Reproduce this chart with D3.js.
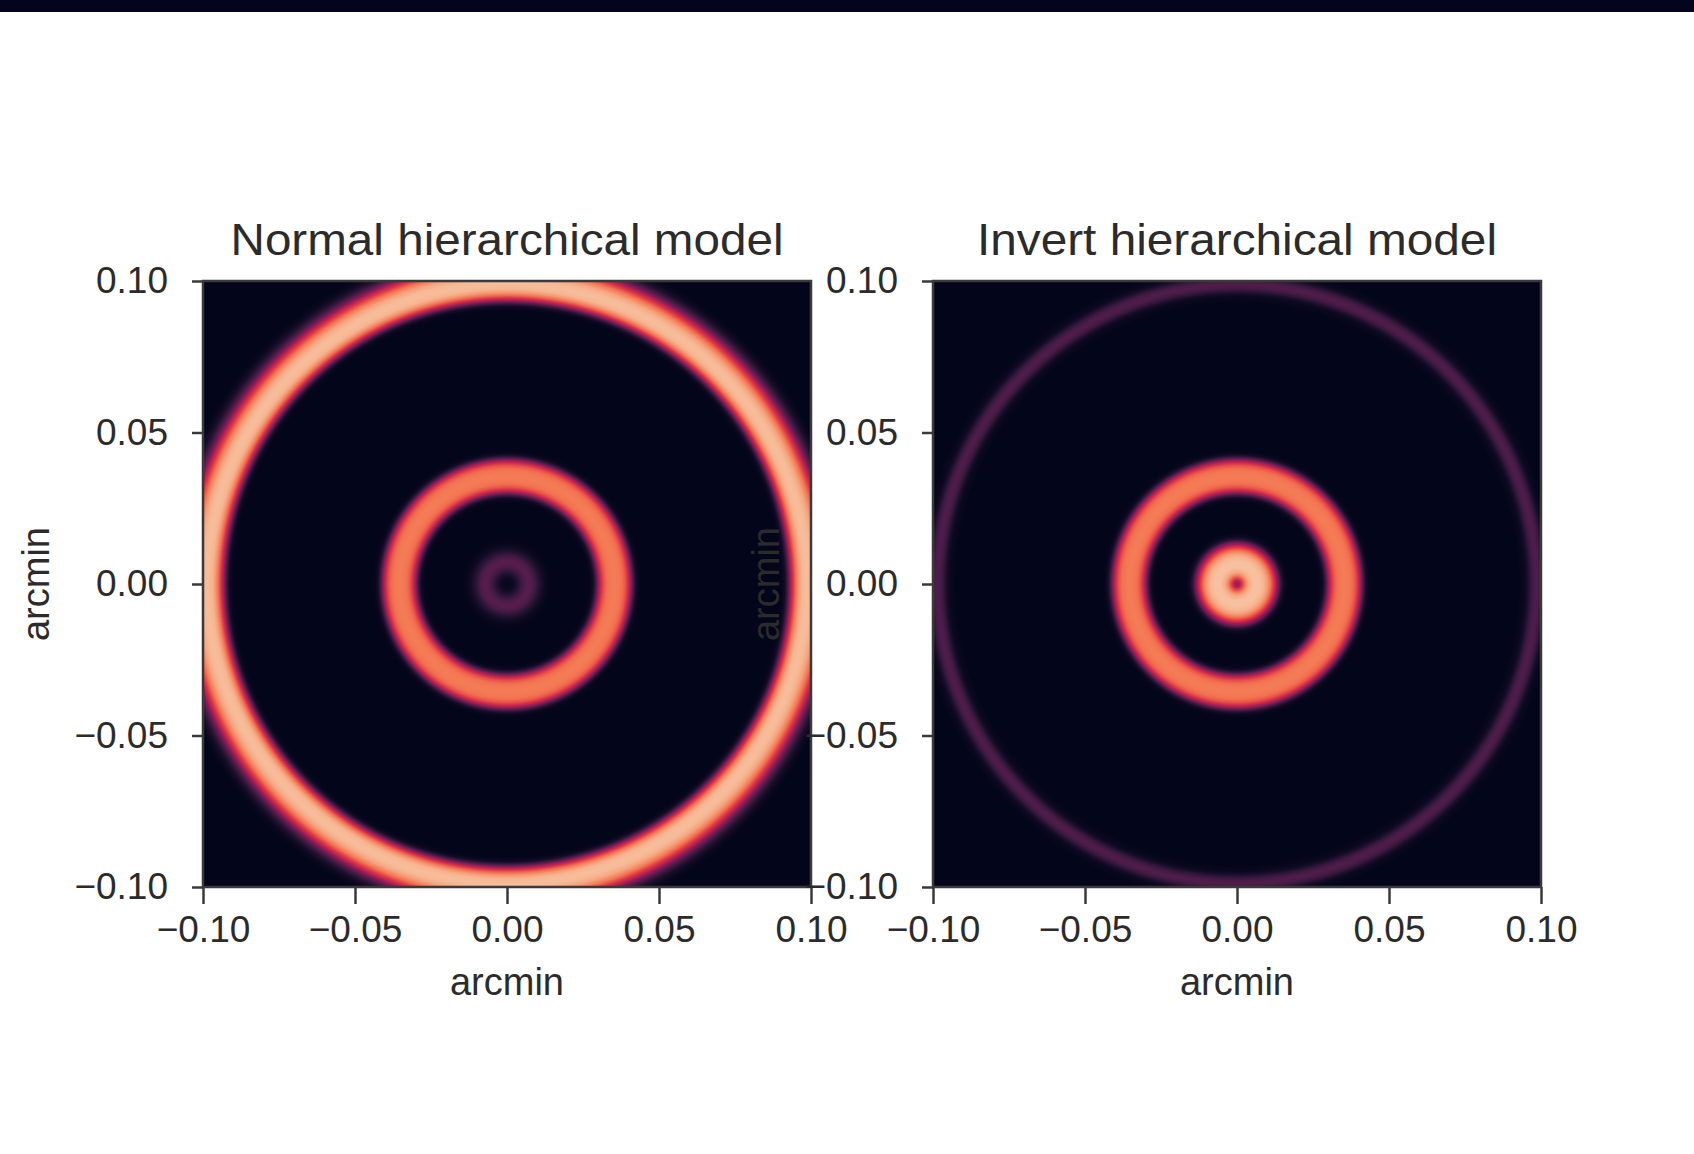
<!DOCTYPE html>
<html>
<head>
<meta charset="utf-8">
<script src="https://cdn.jsdelivr.net/npm/d3@7"></script>
<style>
  body { margin: 0; background: #fff; }
  #chart svg text { font-family: "Liberation Sans", Arial, sans-serif; }
</style>
</head>
<body>
<div id="chart"></div>
<script>
// ticks and labels
const tickValues = [-0.10, -0.05, 0.00, 0.05, 0.10];
const panelTitles = ['Normal hierarchical model', 'Invert hierarchical model'];
const axisLabel = 'arcmin';

// radial profile of each map: radius in arcmin -> colormap level (0..1)
const normalRadius = [
    0.0000, 0.0020, 0.0035, 0.0050, 0.0065, 0.0078, 0.0090, 0.0105, 0.0120, 0.0135, 0.0150,
    0.0264, 0.0274, 0.0283, 0.0291, 0.0299, 0.0309, 0.0319, 0.0329, 0.0339, 0.0354,
    0.0369, 0.0379, 0.0389, 0.0399, 0.0409, 0.0417, 0.0425, 0.0434, 0.0444,
    0.0895, 0.0905, 0.0914, 0.0922, 0.0930, 0.0940, 0.0950, 0.0960, 0.0970, 0.0985,
    0.1000, 0.1015, 0.1030, 0.1045, 0.1060, 0.1075, 0.1090, 0.1105, 0.1120, 0.1500
];
const normalLevel = [
    0.01, 0.03, 0.09, 0.17, 0.22, 0.22, 0.18, 0.10, 0.04, 0.01, 0.00,
    0.00, 0.01, 0.05, 0.16, 0.33, 0.52, 0.64, 0.70, 0.72, 0.73,
    0.72, 0.70, 0.64, 0.52, 0.33, 0.16, 0.05, 0.01, 0.00,
    0.00, 0.01, 0.05, 0.16, 0.34, 0.54, 0.70, 0.80, 0.86, 0.88,
    0.87, 0.82, 0.72, 0.56, 0.36, 0.18, 0.07, 0.02, 0.00, 0.00
];
const invertRadius = [
    0.0000, 0.0010, 0.0020, 0.0030, 0.0040, 0.0055, 0.0072, 0.0088, 0.0100, 0.0110,
    0.0120, 0.0130, 0.0139, 0.0147, 0.0156, 0.0168,
    0.0264, 0.0274, 0.0283, 0.0291, 0.0299, 0.0309, 0.0319, 0.0329, 0.0339, 0.0354,
    0.0369, 0.0379, 0.0389, 0.0399, 0.0409, 0.0417, 0.0425, 0.0434, 0.0444,
    0.0925, 0.0945, 0.0955, 0.0965, 0.0975, 0.0985, 0.0995, 0.1005, 0.1015, 0.1025,
    0.1045, 0.1500
];
const invertLevel = [
    0.38, 0.46, 0.62, 0.76, 0.84, 0.89, 0.89, 0.86, 0.80, 0.71,
    0.58, 0.42, 0.24, 0.10, 0.03, 0.00,
    0.00, 0.01, 0.05, 0.16, 0.33, 0.52, 0.64, 0.70, 0.72, 0.73,
    0.72, 0.70, 0.64, 0.52, 0.33, 0.16, 0.05, 0.01, 0.00,
    0.00, 0.02, 0.06, 0.13, 0.19, 0.21, 0.19, 0.13, 0.06, 0.02,
    0.00, 0.00
];

// seaborn "rocket" colormap anchors
const rocketStops = [0, 1 / 7, 2 / 7, 3 / 7, 4 / 7, 5 / 7, 6 / 7, 1];
const rocketColors = ['#03051a', '#35193e', '#701f57', '#ad1759', '#e13342', '#f37651', '#f6b48f', '#faebdd'];

const width = 1694;
const height = 1154;
const textColor = '#2b2b2b';
const lineColor = '#3a3a3a';

const color = d3.scaleLinear()
    .domain(rocketStops)
    .range(rocketColors)
    .interpolate(d3.interpolateRgb)
    .clamp(true);

const fmt = d3.format('.2f');

const svg = d3.select('#chart')
    .append('svg')
    .attr('width', width)
    .attr('height', height);

const defs = svg.append('defs');

// strip of a neighbouring figure at the very top
svg.append('rect')
    .attr('x', 0)
    .attr('y', 0)
    .attr('width', width)
    .attr('height', 12)
    .attr('fill', '#04051c');

const panels = [
    { title: panelTitles[0], radius: normalRadius, level: normalLevel, left: 203, titleWidth: 553 },
    { title: panelTitles[1], radius: invertRadius, level: invertLevel, left: 933, titleWidth: 520 }
];

const side = 608;
const plotTop = 281;
const plotBottom = 887;

panels.forEach((p, i) => {
    const x = d3.scaleLinear().domain([-0.1, 0.1]).range([p.left, p.left + side]);
    const y = d3.scaleLinear().domain([-0.1, 0.1]).range([plotBottom, plotTop]);
    const rMax = d3.max(p.radius);
    const rPx = x(rMax) - x(0);

    const g = svg.append('g').attr('class', 'panel-' + i);

    defs.append('clipPath')
        .attr('id', 'clip' + i)
        .append('rect')
        .attr('x', x(-0.1))
        .attr('y', y(0.1))
        .attr('width', x(0.1) - x(-0.1))
        .attr('height', y(-0.1) - y(0.1));

    const grad = defs.append('radialGradient')
        .attr('id', 'map' + i)
        .attr('gradientUnits', 'userSpaceOnUse')
        .attr('cx', x(0))
        .attr('cy', y(0))
        .attr('r', rPx);

    grad.selectAll('stop')
        .data(p.radius)
        .join('stop')
        .attr('offset', d => (x(d) - x(0)) / rPx)
        .attr('stop-color', (d, j) => color(p.level[j]));

    g.append('rect')
        .attr('clip-path', `url(#clip${i})`)
        .attr('x', x(-0.1))
        .attr('y', y(0.1))
        .attr('width', x(0.1) - x(-0.1))
        .attr('height', y(-0.1) - y(0.1))
        .attr('fill', `url(#map${i})`);

    // spines
    g.append('rect')
        .attr('x', x(-0.1))
        .attr('y', y(0.1))
        .attr('width', x(0.1) - x(-0.1))
        .attr('height', y(-0.1) - y(0.1))
        .attr('fill', 'none')
        .attr('stroke', lineColor)
        .attr('stroke-width', 2.5);

    const xAxis = d3.axisBottom(x)
        .tickValues(tickValues)
        .tickFormat(fmt)
        .tickSize(17)
        .tickSizeOuter(0)
        .tickPadding(12);

    const yAxis = d3.axisLeft(y)
        .tickValues(tickValues)
        .tickFormat(fmt)
        .tickSize(11)
        .tickSizeOuter(0)
        .tickPadding(24);

    [
        g.append('g').attr('transform', `translate(0,${plotBottom})`).call(xAxis),
        g.append('g').attr('transform', `translate(${p.left},0)`).call(yAxis)
    ].forEach(ax => {
        ax.attr('font-size', 37)
            .attr('font-family', '"Liberation Sans", Arial, sans-serif')
            .style('color', textColor);
        ax.select('.domain').remove();
        ax.selectAll('.tick line')
            .attr('stroke', lineColor)
            .attr('stroke-width', 2.5);
    });

    g.append('text')
        .attr('x', (x(-0.1) + x(0.1)) / 2)
        .attr('y', 255)
        .attr('text-anchor', 'middle')
        .attr('font-size', 45)
        .attr('textLength', p.titleWidth)
        .attr('lengthAdjust', 'spacingAndGlyphs')
        .attr('fill', textColor)
        .text(p.title);

    g.append('text')
        .attr('x', x(0))
        .attr('y', 995)
        .attr('text-anchor', 'middle')
        .attr('font-size', 38)
        .attr('fill', textColor)
        .text(axisLabel);

    g.append('text')
        .attr('transform', `translate(${p.left - 154},${y(0)}) rotate(-90)`)
        .attr('text-anchor', 'middle')
        .attr('font-size', 38)
        .attr('fill', textColor)
        .text(axisLabel);
});
</script>
</body>
</html>
